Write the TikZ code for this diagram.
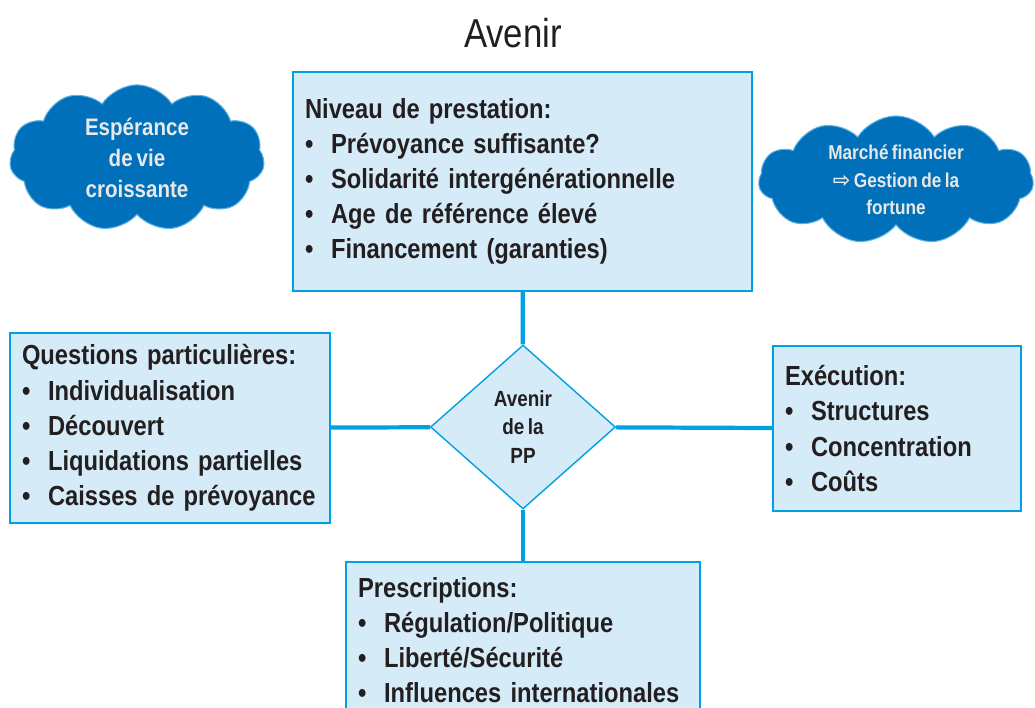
\documentclass[tikz,border=0pt]{standalone}
\usepackage{fontspec}
\setmainfont{Liberation Sans}[FakeStretch=0.86, WordSpace=0.7]
\newfontfamily\arrowfont{DejaVu Sans}
\usetikzlibrary{shapes,positioning}
\definecolor{boxfill}{RGB}{214,235,248}
\definecolor{boxline}{RGB}{0,160,227}
\definecolor{cloudblue}{RGB}{0,112,186}
\definecolor{cloudline}{RGB}{95,178,226}
\definecolor{textdark}{RGB}{35,31,32}
\definecolor{cloudtext}{RGB}{232,232,232}
\newcommand{\bul}{\makebox[0.52cm][l]{\textbullet}}

\begin{document}
\begin{tikzpicture}[x=0.02cm, y=-0.02cm,
    infobox/.style={rectangle, draw=boxline, line width=0.8pt, fill=boxfill, inner xsep=0.24cm, align=left, text=textdark, font=\fontsize{15.7}{20}\selectfont\bfseries},
    link/.style={draw=boxline, line width=2.4pt},
    wolke/.style={cloud, cloud puffs=11, cloud puff arc=115, draw=cloudline, line width=0.6pt, fill=cloudblue, text=cloudtext, align=center, inner sep=0pt}
]
\useasboundingbox (0,0) rectangle (1035,707);

% Title
\node[text=textdark, font=\fontsize{23}{26}\selectfont] (titel) at (513,33) {Avenir};

% Centre diamond
\node[diamond, draw=boxline, line width=0.8pt, fill=boxfill, inner sep=0pt, minimum width=3.7cm, minimum height=3.28cm, align=center, text=textdark, font=\fontsize{12.5}{16.2}\selectfont\bfseries] (pp) at (523,427) {Avenir\\de la\\PP};

% Four boxes round the diamond
\node[infobox, text width=8.7cm, minimum width=9.18cm, minimum height=4.38cm] (niveau) at (522.5,181.5) {Niveau de prestation:\\
\bul Prévoyance suffisante?\\
\bul Solidarité intergénérationnelle\\
\bul Age de référence élevé\\
\bul Financement (garanties)};

\node[infobox, text width=5.92cm, minimum width=6.4cm, minimum height=3.8cm] (questions) at (170,428) {Questions particulières:\\
\bul Individualisation\\
\bul Découvert\\
\bul Liquidations partielles\\
\bul Caisses de prévoyance};

\node[infobox, text width=4.48cm, minimum width=4.96cm, minimum height=3.3cm] (execution) at (897,428.5) {Exécution:\\
\bul Structures\\
\bul Concentration\\
\bul Coûts};

\node[infobox, text width=6.6cm, minimum width=7.08cm, minimum height=3.12cm] (prescriptions) at (523,640) {Prescriptions:\\
\bul Régulation/Politique\\
\bul Liberté/Sécurité\\
\bul Influences internationales};

% Connectors
\draw[link] (niveau) -- (pp);
\draw[link] (pp) -- (prescriptions);
\draw[link] (questions) -- (pp);
\draw[link] (pp) -- (execution);

% Clouds
\node[wolke, aspect=2.2, minimum width=4.8cm, minimum height=2.1cm, font=\fontsize{13.6}{17.6}\selectfont\bfseries] (esperance) at (137,158) {Espérance\\de vie\\croissante};
\node[wolke, aspect=2.2, minimum width=5.5cm, minimum height=2.4cm, font=\fontsize{11.4}{15.6}\selectfont\bfseries] (marche) at (896,180) {Marché financier\\{\arrowfont\fontsize{12}{15.6}\selectfont ⇨} Gestion de la\\fortune};

\end{tikzpicture}
\end{document}
